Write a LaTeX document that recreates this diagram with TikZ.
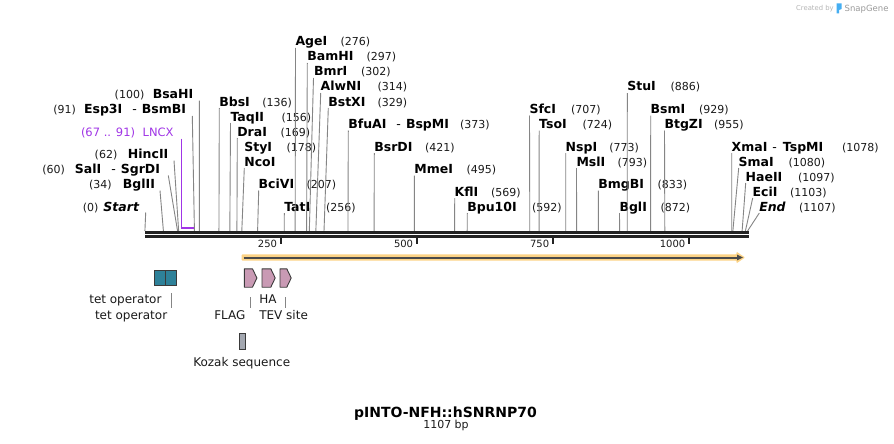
\documentclass[tikz,border=0pt]{standalone}
\usepackage{fontspec}
\setmainfont{DejaVu Sans}
\usetikzlibrary{calc}
\definecolor{seqc}{HTML}{222222}
\definecolor{cutc}{HTML}{858585}
\definecolor{lncxc}{HTML}{A035E6}
\definecolor{orangeL}{HTML}{FCD386}
\definecolor{darkbar}{HTML}{4A4A4A}
\definecolor{tetc}{HTML}{2E8199}
\definecolor{pinkc}{HTML}{C99AB4}
\definecolor{kozc}{HTML}{A3A7B0}
\definecolor{edgec}{HTML}{3A3A3A}
\definecolor{txtc}{HTML}{1A1A1A}
\definecolor{snapgray}{HTML}{B5B5B5}
\definecolor{snapblue}{HTML}{45AEF2}
\tikzset{
  enzname/.style={inner sep=0pt,outer sep=0pt,text=black,font=\fontsize{12.5}{14}\selectfont\bfseries},
  enznum/.style={inner sep=0pt,outer sep=0pt,text=txtc,font=\fontsize{11}{13}\selectfont},
  cutline/.style={draw=cutc,line width=0.9pt},
  seqline/.style={draw=seqc,line width=2.7pt},
  ticklabel/.style={inner sep=0pt,outer sep=0pt,text=txtc,font=\fontsize{10}{12}\selectfont,anchor=base east},
  featlabel/.style={inner sep=0pt,outer sep=0pt,text=txtc,font=\fontsize{12}{14}\selectfont,anchor=base west},
  featline/.style={draw=cutc,line width=0.9pt},
  tetbox/.style={draw=edgec,line width=1.1pt,fill=tetc,minimum width=11.4pt,minimum height=15.4pt,inner sep=0pt,outer sep=0pt},
  featarrow/.style={draw=edgec,line width=0.9pt,fill=pinkc,line join=round},
  lncxtext/.style={inner sep=0pt,outer sep=0pt,text=lncxc,font=\fontsize{11.5}{13}\selectfont,anchor=base west}
}
% label to the right of its number, line from left edge of name
\newcommand\enzyme[9]{%
  \node[enzname,anchor=base west] (e#1) at (#2,#3) {#4};
  \node[enznum,anchor=base west] (n#1) at (#5,#3) {#6};
  \coordinate (t#1) at (#7,#8);
  \coordinate (c#1) at ({144.9+#9*0.5444},231);
  \draw[cutline] (t#1) -- (c#1);
}
% left group: name given by its right edge, number by its right edge
\newcommand\enzymeL[9]{%
  \node[enzname,anchor=base east] (e#1) at (#2,#3) {#4};
  \node[enznum,anchor=base east] (n#1) at (#5,#3) {#6};
  \coordinate (t#1) at (#7,#8);
  \coordinate (c#1) at ({144.9+#9*0.5444},231);
  \draw[cutline] (t#1) -- (c#1);
}
\newcommand\dsh{\hspace{10pt}{\mdseries -}\hspace{5pt}}
\begin{document}
\begin{tikzpicture}[x=1pt,y=-1pt]
\useasboundingbox[fill=white] (0,0) rectangle (894,444);

% enzymes, left group
\enzymeL{start}{139}{211}{\itshape Start}{98.5}{(0)}{145.7}{212.5}{0}
\enzymeL{bglii}{155}{188.5}{BglII}{111.7}{(34)}{160}{190.5}{34}
\enzymeL{sali}{160}{173.5}{SalI\dsh SgrDI}{65}{(60)}{168.3}{175.5}{60}
\enzymeL{hincii}{168.3}{158.5}{HincII}{117.3}{(62)}{174}{160.5}{62}
\enzymeL{esp}{186}{113.5}{Esp3I\dsh BsmBI}{76}{(91)}{192.3}{116}{91}
\enzymeL{bsahi}{193.3}{98.5}{BsaHI}{144.3}{(100)}{199.3}{100.5}{100}

% LNCX
\node[lncxtext] (lncxn) at (81,136) {(67 .. 91)};
\node[lncxtext] (lncx) at (142.7,136) {LNCX};
\coordinate (lncxtop) at (181.4,138.5);
\coordinate (lncxa) at (181.4,227.7);
\coordinate (lncxb) at (194.4,227.7);
\draw[lncxc,line width=1.2pt] (lncxtop) -- (lncxa);
\draw[lncxc,line width=2pt] ([xshift=-0.6pt]lncxa) -- (lncxb);

% enzymes, middle
\enzyme{bbsi}{219.3}{106}{BbsI}{262.3}{(136)}{219.3}{108}{136}
\enzyme{taqii}{230.5}{121}{TaqII}{281.7}{(156)}{230.5}{123}{156}
\enzyme{drai}{237.3}{136}{DraI}{280.5}{(169)}{237.3}{138}{169}
\node[enzname,anchor=base west] (estyi) at (244.3,151) {StyI};
\node[enznum,anchor=base west] (nstyi) at (286.7,151) {(178)};
\node[enzname,anchor=base west] (enco) at (244.3,166) {NcoI};
\coordinate (tnco) at (244.3,168);
\coordinate (cnco) at ({144.9+178*0.5444},231);
\draw[cutline] (tnco) -- (cnco);
\enzyme{bcivi}{258.7}{188.5}{BciVI}{306.7}{(207)}{258.7}{190.5}{207}
\enzyme{tati}{284.3}{211}{TatI}{326}{(256)}{284.3}{213}{256}
\enzyme{agei}{295.5}{46}{AgeI}{340.7}{(276)}{295.5}{48}{276}
\enzyme{bamhi}{307.3}{61}{BamHI}{366.7}{(297)}{307.3}{63}{297}
\enzyme{bmri}{314}{76}{BmrI}{361}{(302)}{313.5}{78}{302}
\enzyme{alwni}{320.7}{91}{AlwNI}{377.7}{(314)}{320.7}{93}{314}
\enzyme{bstxi}{328.3}{106}{BstXI}{377.7}{(329)}{328.3}{108}{329}
\enzyme{bfuai}{348.3}{128.5}{BfuAI\dsh BspMI}{460}{(373)}{348.3}{130.5}{373}
\enzyme{bsrdi}{374.3}{151}{BsrDI}{425}{(421)}{374.3}{153}{421}
\enzyme{mmei}{414.4}{173.5}{MmeI}{466.5}{(495)}{414.4}{175.5}{495}
\enzyme{kfli}{454.7}{196}{KflI}{491}{(569)}{454.7}{198}{569}
\enzyme{bpu}{467.3}{211}{Bpu10I}{532}{(592)}{467.3}{213}{592}

% enzymes, right
\enzyme{sfci}{529.5}{113.5}{SfcI}{571}{(707)}{529.5}{115.5}{707}
\enzyme{tsoi}{539.2}{128.5}{TsoI}{582.5}{(724)}{539.2}{130.5}{724}
\enzyme{nspi}{565.7}{151}{NspI}{609.3}{(773)}{565.7}{153}{773}
\enzyme{msli}{576.5}{166}{MslI}{617.5}{(793)}{576.5}{168}{793}
\enzyme{bmgbi}{598.4}{188.5}{BmgBI}{657.5}{(833)}{598.4}{190.5}{833}
\enzyme{bgli}{619.5}{211}{BglI}{660.5}{(872)}{619.5}{213}{872}
\enzyme{stui}{627.3}{91}{StuI}{670.5}{(886)}{627.3}{93}{886}
\enzyme{bsmi}{650.7}{113.5}{BsmI}{699}{(929)}{650.7}{115.5}{929}
\enzyme{btgzi}{664.5}{128.5}{BtgZI}{714}{(955)}{664.5}{130.5}{955}
\enzyme{xmai}{731.7}{151}{XmaI\hspace{5pt}{\mdseries -}\hspace{6pt}TspMI}{842}{(1078)}{731.7}{153}{1078}
\enzyme{smai}{738.7}{166}{SmaI}{788.5}{(1080)}{738.7}{168}{1080}
\enzyme{haeii}{745.7}{181}{HaeII}{798}{(1097)}{745.7}{183}{1097}
\enzyme{ecii}{752.7}{196}{EciI}{790}{(1103)}{752.7}{198}{1103}
\enzyme{end}{759.3}{211}{\itshape End}{799}{(1107)}{759.3}{213}{1107}

% sequence line
\coordinate (sa) at (145,232.3);
\coordinate (sb) at (749,232.3);
\coordinate (sc) at (145,236.4);
\coordinate (sd) at (749,236.4);
\draw[seqline] (sa) -- (sb);
\draw[seqline] (sc) -- (sd);

% ticks
\foreach \v/\nm in {250/t1,500/t2,750/t3,1000/t4}{
  \coordinate (\nm a) at ({144.9+\v*0.5444},237.5);
  \coordinate (\nm b) at ({144.9+\v*0.5444},244);
  \draw[seqc,line width=1.8pt] (\nm a) -- (\nm b);
  \node[ticklabel] (\nm l) at ({144.9+\v*0.5444-4},247) {\v};
}

% ORF arrow
\fill[orangeL,rounded corners=0.8pt] (241.7,254.3) -- (736.5,254.3) -- (736.5,251.7) -- (745,257.5) -- (736.5,263.3) -- (736.5,260.7) -- (241.7,260.7) -- cycle;
\draw[darkbar,line width=2pt] (243.5,257.5) -- (738,257.5);
\fill[darkbar] (737,254.6) -- (743,257.5) -- (737,260.4) -- cycle;

% tet operators
\node[tetbox] (tet1) at (160,278) {};
\node[tetbox] (tet2) at (171,278) {};
\node[featlabel] (tetl1) at (89.3,303.3) {tet operator};
\node[featlabel] (tetl2) at (95,319) {tet operator};
\coordinate (tetla) at (171.7,293);
\coordinate (tetlb) at (171.7,308);
\draw[featline] (tetla) -- (tetlb);

% FLAG, HA, TEV
\draw[featarrow] (244.3,268.8) -- (252.5,268.8) -- (256.9,278) -- (252.5,287.2) -- (244.3,287.2) -- cycle;
\draw[featarrow] (262,268.8) -- (270.8,268.8) -- (275.2,278) -- (270.8,287.2) -- (262,287.2) -- cycle;
\draw[featarrow] (280,268.8) -- (286.8,268.8) -- (291.2,278) -- (286.8,287.2) -- (280,287.2) -- cycle;
\node[featlabel] (flagl) at (214.3,319) {FLAG};
\node[featlabel] (hal) at (259.3,303.3) {HA};
\node[featlabel] (tevl) at (259.3,319) {TEV site};
\coordinate (flaga) at (250.7,297);
\coordinate (flagb) at (250.7,308);
\draw[featline] (flaga) -- (flagb);
\coordinate (teva) at (285.7,297);
\coordinate (tevb) at (285.7,308);
\draw[featline] (teva) -- (tevb);

% Kozak
\node[draw=edgec,line width=0.9pt,fill=kozc,minimum width=6.4pt,minimum height=16pt,inner sep=0pt,outer sep=0pt] (kozak) at (242.5,341.3) {};
\node[featlabel] (kozakl) at (193.3,366) {Kozak sequence};

% title
\node[inner sep=0pt,anchor=base,font=\fontsize{14}{16}\selectfont\bfseries,text=black] (title) at (445.5,417) {pINTO-NFH::hSNRNP70};
\node[inner sep=0pt,anchor=base,font=\fontsize{11}{13}\selectfont,text=txtc] (bp) at (446,428.5) {1107 bp};

% SnapGene credit
\node[inner sep=0pt,anchor=base west,font=\fontsize{6.8}{8}\selectfont,text=snapgray] (cred) at (796,10.5) {Created by};
\fill[snapblue] (836.5,3.5) -- (841.5,3.5) -- (841.5,9) -- (839,10) -- (839,13.5) -- (836.5,13.5) -- cycle;
\node[inner sep=0pt,anchor=base west,font=\fontsize{8.5}{10}\selectfont,text=snapgray!85!black] (snap) at (844.5,11.5) {SnapGene};
\end{tikzpicture}
\end{document}
